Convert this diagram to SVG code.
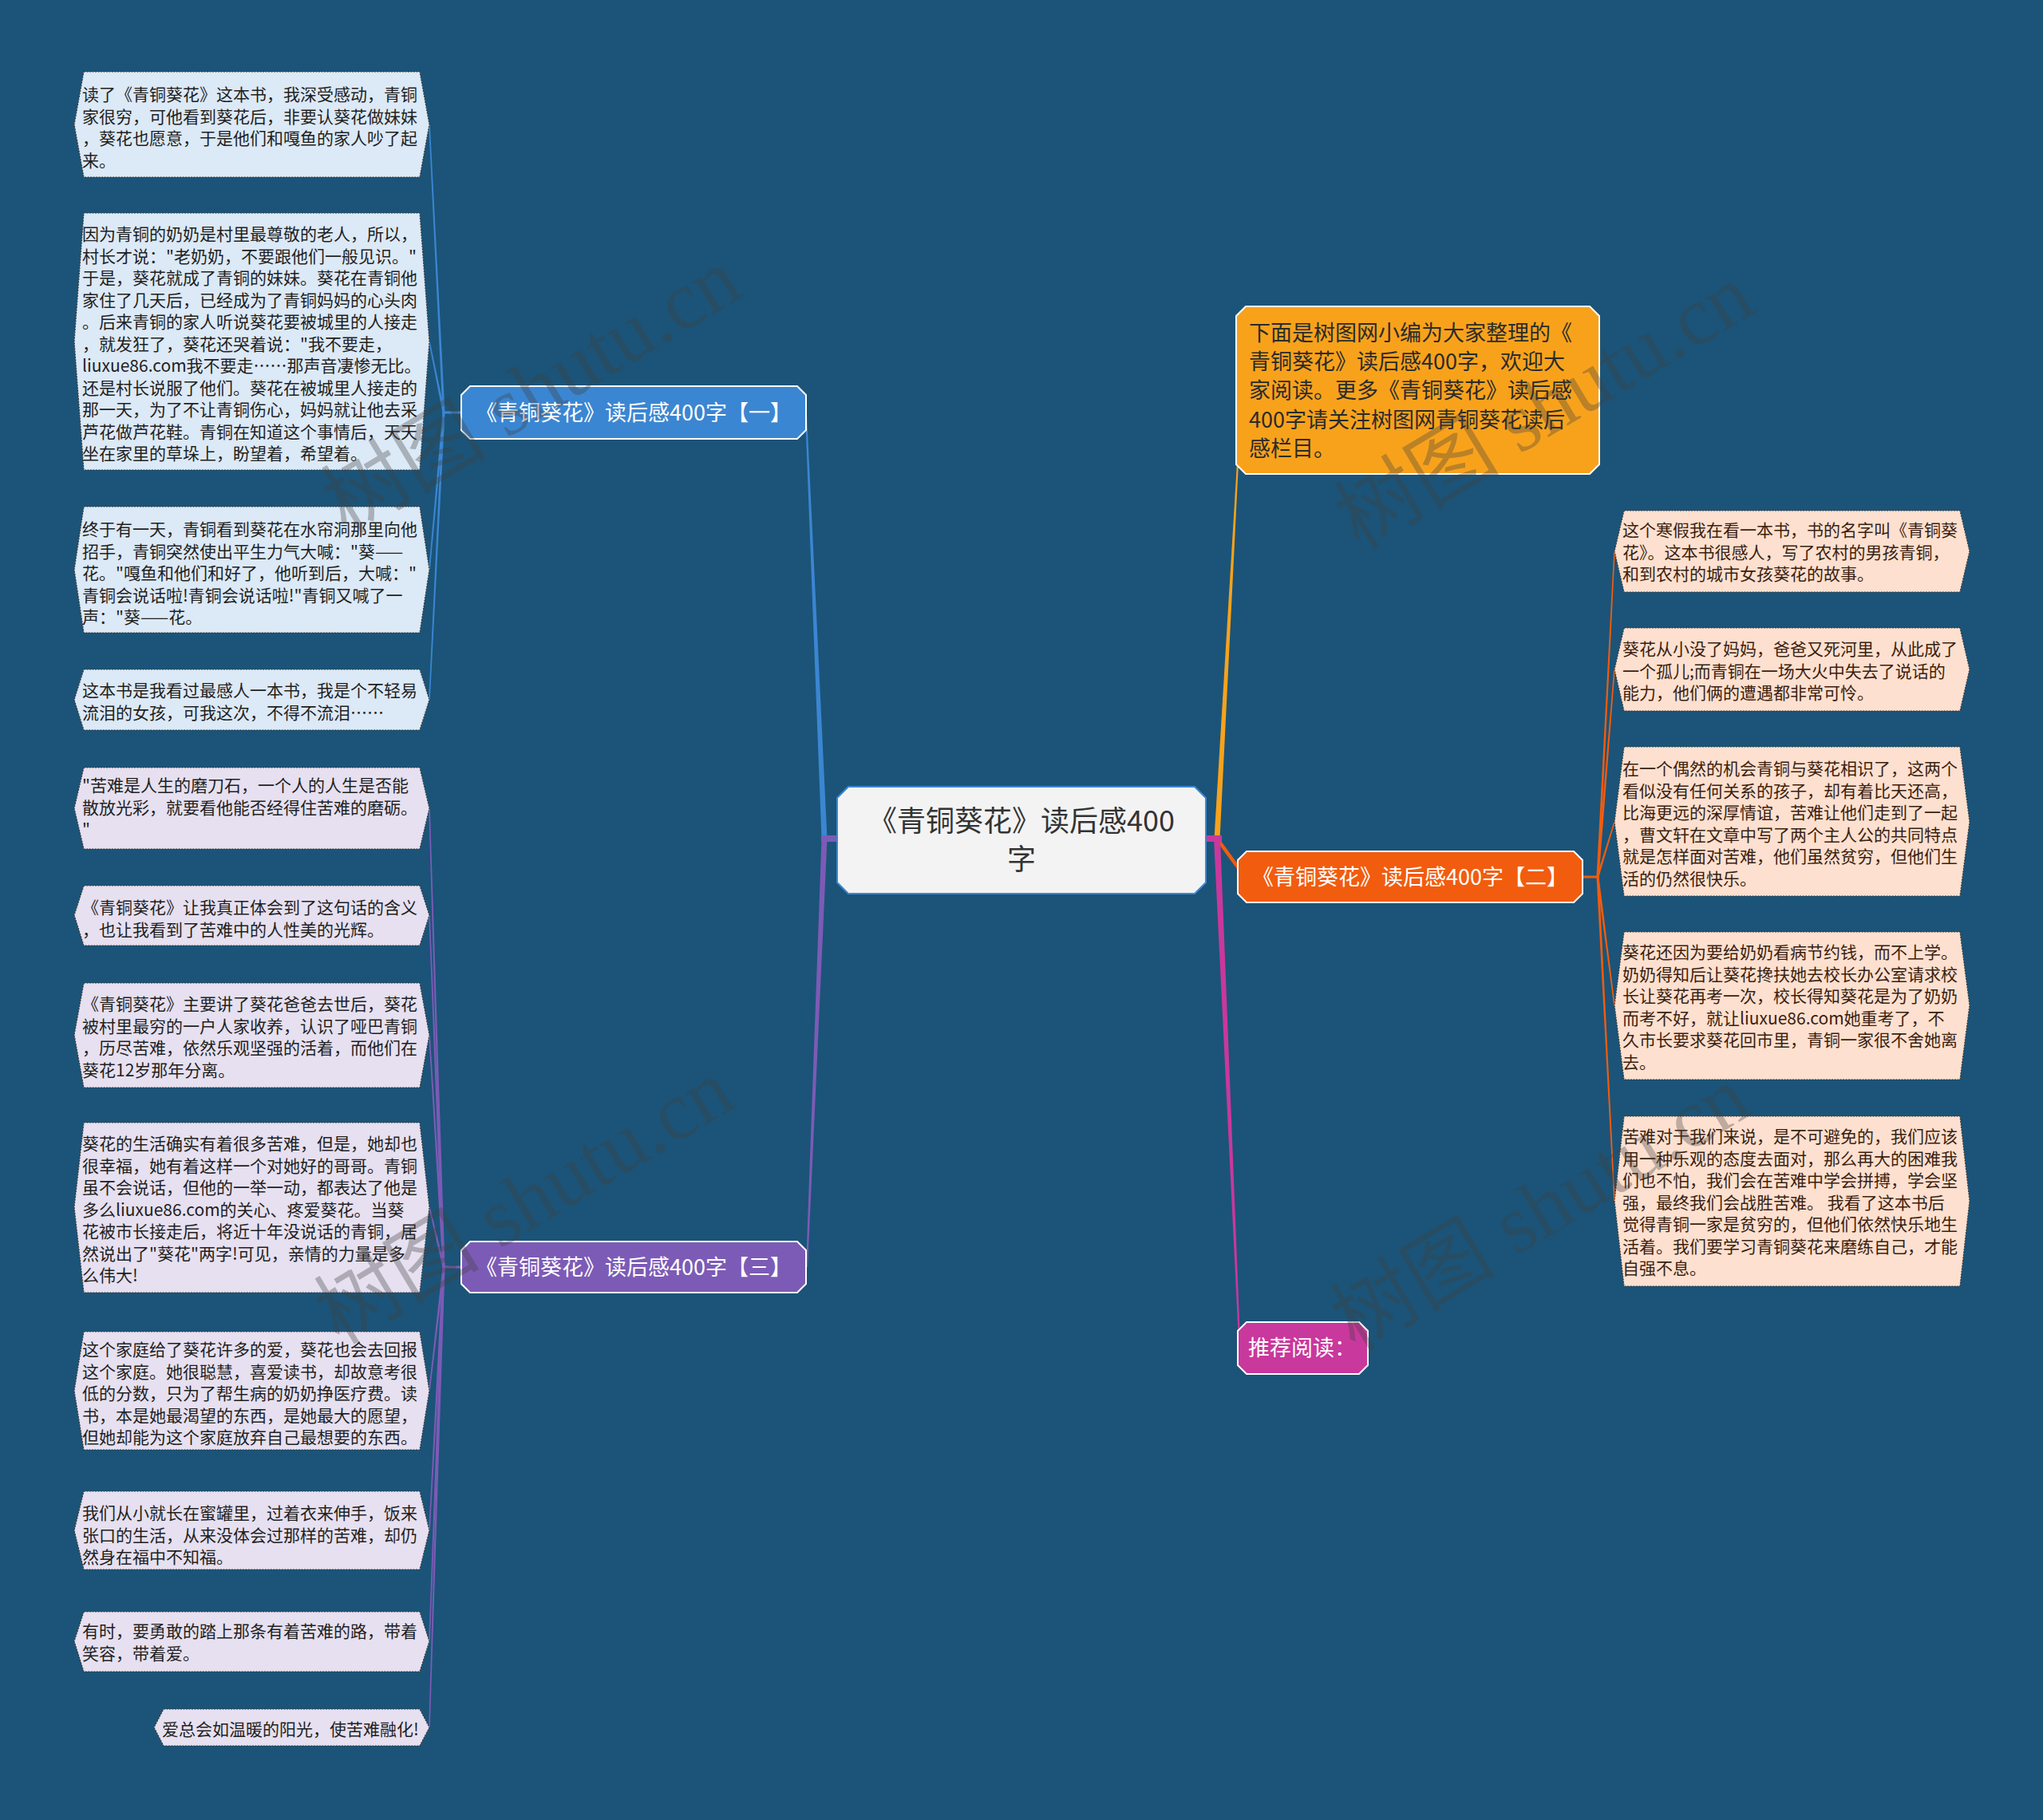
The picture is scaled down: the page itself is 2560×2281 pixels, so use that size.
<svg xmlns="http://www.w3.org/2000/svg" width="2560" height="2281" viewBox="0 0 2560 2281">
<style>
.lf{stroke:#3a3a3a;stroke-width:1.2;stroke-dasharray:2 1.5}
.lb{fill:#dce9f6}
.lp{fill:#e6e0f0}
.lo{fill:#fde0cf}
.t{font-family:"Noto Sans CJK SC","Noto Sans",sans-serif}
.lt{font-size:21px;fill:#1f1f1f}
.lto{font-size:21px;fill:#3b1e10}
.bt{font-size:27px;fill:#ffffff}
.br{stroke:#ffffff;stroke-width:2}
.wm{font-family:"Liberation Serif","Noto Sans CJK SC",serif;font-size:104px;fill:#404040;opacity:0.33}
</style>
<rect x="0" y="0" width="2560" height="2281" fill="#1b5478"/>

<g id="connectors">
  <!-- central to branches -->
  <polygon points="1029.5,1051 1009,520 1011,520 1036.5,1051" fill="#3b86d2"/>
  <polygon points="1029.5,1051 1010,1588 1012,1588 1036.5,1051" fill="#7c5bb6"/>
  <rect x="1029" y="1047" width="22" height="8" fill="#7c5bb6"/>
  <polygon points="1521.5,1051 1550,580 1552,580 1528.5,1051" fill="#f8a21c"/>
  <line x1="1525" y1="1051" x2="1560" y2="1099" stroke="#f25c0e" stroke-width="4.5"/>
  <polygon points="1521,1051 1552,1680 1554,1680 1529,1051" fill="#c9389c"/>
  <rect x="1509" y="1047" width="22" height="8" fill="#c9389c"/>
  <!-- branch 1 to leaves -->
  <g fill="#3b86d2">
    <rect x="554" y="515.5" width="26" height="3"/>
    <polygon points="554.5,517 537.2,156 538.8,156 557.5,517"/>
    <polygon points="554.5,517 537.2,428 538.8,428 557.5,517"/>
    <polygon points="554.5,517 537.2,714 538.8,714 557.5,517"/>
    <polygon points="554.5,517 537.2,877 538.8,877 557.5,517"/>
  </g>
  <!-- branch 3 to leaves -->
  <g fill="#7c5bb6">
    <rect x="554" y="1586.5" width="26" height="3"/>
    <polygon points="554.5,1588 537.2,1013 538.8,1013 557.5,1588"/>
    <polygon points="554.5,1588 537.2,1147 538.8,1147 557.5,1588"/>
    <polygon points="554.5,1588 537.2,1297 538.8,1297 557.5,1588"/>
    <polygon points="554.5,1588 537.2,1513 538.8,1513 557.5,1588"/>
    <polygon points="554.5,1588 537.2,1743 538.8,1743 557.5,1588"/>
    <polygon points="554.5,1588 537.2,1918 538.8,1918 557.5,1588"/>
    <polygon points="554.5,1588 537.2,2057 538.8,2057 557.5,1588"/>
    <polygon points="554.5,1588 537.2,2165 538.8,2165 557.5,1588"/>
  </g>
  <!-- branch 2 to leaves -->
  <g fill="#f25c0e">
    <rect x="1980" y="1097.5" width="24" height="3"/>
    <polygon points="2000.5,1099 2022.2,691 2023.8,691 2003.5,1099"/>
    <polygon points="2000.5,1099 2022.2,839 2023.8,839 2003.5,1099"/>
    <polygon points="2000.5,1099 2022.2,1030 2023.8,1030 2003.5,1099"/>
    <polygon points="2000.5,1099 2022.2,1260 2023.8,1260 2003.5,1099"/>
    <polygon points="2000.5,1099 2022.2,1505 2023.8,1505 2003.5,1099"/>
  </g>
</g>

<g id="central">
  <polygon points="1063,986 1497,986 1511,1000 1511,1106 1497,1120 1063,1120 1049,1106 1049,1000" fill="#f3f3f3" stroke="#3b86d2" stroke-width="2"/>
  <text class="t" x="1280" y="1042" font-size="36" fill="#333333" text-anchor="middle">《青铜葵花》读后感400</text>
  <text class="t" x="1280" y="1090" font-size="36" fill="#333333" text-anchor="middle">字</text>
</g>

<g id="branch1">
  <polygon class="br" points="589,484 999,484 1010,495 1010,539 999,550 589,550 578,539 578,495" fill="#3b86d2"/>
  <text class="t bt" x="794" y="527" text-anchor="middle">《青铜葵花》读后感400字【一】</text>
</g>
<g id="branch3">
  <polygon class="br" points="589,1556 999,1556 1010,1567 1010,1609 999,1620 589,1620 578,1609 578,1567" fill="#7c5bb6"/>
  <text class="t bt" x="794" y="1598" text-anchor="middle">《青铜葵花》读后感400字【三】</text>
</g>
<g id="branch2">
  <polygon class="br" points="1562,1067 1972,1067 1983,1078 1983,1120 1972,1131 1562,1131 1551,1120 1551,1078" fill="#f25c0e"/>
  <text class="t bt" x="1767" y="1109" text-anchor="middle">《青铜葵花》读后感400字【二】</text>
</g>
<g id="recommend">
  <polygon class="br" points="1562,1657 1703,1657 1714,1668 1714,1711 1703,1722 1562,1722 1551,1711 1551,1668" fill="#c9389c"/>
  <text class="t bt" x="1564" y="1699">推荐阅读：</text>
</g>
<g id="intro">
  <polygon class="br" points="1561,384 1992,384 2004,396 2004,582 1992,594 1561,594 1549,582 1549,396" fill="#f8a21c"/>
  <text class="t" font-size="27" fill="#2b2b2b">
    <tspan x="1565" y="427">下面是树图网小编为大家整理的《</tspan>
    <tspan x="1565" y="463">青铜葵花》读后感400字，欢迎大</tspan>
    <tspan x="1565" y="499">家阅读。更多《青铜葵花》读后感</tspan>
    <tspan x="1565" y="536">400字请关注树图网青铜葵花读后</tspan>
    <tspan x="1565" y="572">感栏目。</tspan>
  </text>
</g>

<!-- left leaves (branch 1) -->
<g id="leaf-l1">
  <polygon class="lf lb" points="105,90 526,90 538,156 526,222 105,222 93,156"/>
  <text class="t lt">
    <tspan x="103" y="126">读了《青铜葵花》这本书，我深受感动，青铜</tspan>
    <tspan x="103" y="153.5">家很穷，可他看到葵花后，非要认葵花做妹妹</tspan>
    <tspan x="103" y="181">，葵花也愿意，于是他们和嘎鱼的家人吵了起</tspan>
    <tspan x="103" y="208.5">来。</tspan>
  </text>
</g>
<g id="leaf-l2">
  <polygon class="lf lb" points="105,267 526,267 538,428 526,589 105,589 93,428"/>
  <text class="t lt">
    <tspan x="103" y="301">因为青铜的奶奶是村里最尊敬的老人，所以，</tspan>
    <tspan x="103" y="328.5">村长才说："老奶奶，不要跟他们一般见识。"</tspan>
    <tspan x="103" y="356">于是，葵花就成了青铜的妹妹。葵花在青铜他</tspan>
    <tspan x="103" y="383.5">家住了几天后，已经成为了青铜妈妈的心头肉</tspan>
    <tspan x="103" y="411">。后来青铜的家人听说葵花要被城里的人接走</tspan>
    <tspan x="103" y="438.5">，就发狂了，葵花还哭着说："我不要走，</tspan>
    <tspan x="103" y="466">liuxue86.com我不要走……那声音凄惨无比。</tspan>
    <tspan x="103" y="493.5">还是村长说服了他们。葵花在被城里人接走的</tspan>
    <tspan x="103" y="521">那一天，为了不让青铜伤心，妈妈就让他去采</tspan>
    <tspan x="103" y="548.5">芦花做芦花鞋。青铜在知道这个事情后，天天</tspan>
    <tspan x="103" y="576">坐在家里的草垛上，盼望着，希望着。</tspan>
  </text>
</g>
<g id="leaf-l3">
  <polygon class="lf lb" points="105,635 526,635 538,714 526,793 105,793 93,714"/>
  <text class="t lt">
    <tspan x="103" y="671">终于有一天，青铜看到葵花在水帘洞那里向他</tspan>
    <tspan x="103" y="698.5">招手，青铜突然使出平生力气大喊："葵——</tspan>
    <tspan x="103" y="726">花。"嘎鱼和他们和好了，他听到后，大喊："</tspan>
    <tspan x="103" y="753.5">青铜会说话啦!青铜会说话啦!"青铜又喊了一</tspan>
    <tspan x="103" y="781">声："葵——花。</tspan>
  </text>
</g>
<g id="leaf-l4">
  <polygon class="lf lb" points="105,839 526,839 538,877 526,915 105,915 93,877"/>
  <text class="t lt">
    <tspan x="103" y="873">这本书是我看过最感人一本书，我是个不轻易</tspan>
    <tspan x="103" y="900.5">流泪的女孩，可我这次，不得不流泪……</tspan>
  </text>
</g>

<!-- left leaves (branch 3) -->
<g id="leaf-l5">
  <polygon class="lf lp" points="105,962 526,962 538,1013 526,1064 105,1064 93,1013"/>
  <text class="t lt">
    <tspan x="103" y="992">"苦难是人生的磨刀石，一个人的人生是否能</tspan>
    <tspan x="103" y="1019.5">散放光彩，就要看他能否经得住苦难的磨砺。</tspan>
    <tspan x="103" y="1047">"</tspan>
  </text>
</g>
<g id="leaf-l6">
  <polygon class="lf lp" points="105,1110 526,1110 538,1147 526,1185 105,1185 93,1147"/>
  <text class="t lt">
    <tspan x="103" y="1145">《青铜葵花》让我真正体会到了这句话的含义</tspan>
    <tspan x="103" y="1172.5">，也让我看到了苦难中的人性美的光辉。</tspan>
  </text>
</g>
<g id="leaf-l7">
  <polygon class="lf lp" points="105,1232 526,1232 538,1297 526,1363 105,1363 93,1297"/>
  <text class="t lt">
    <tspan x="103" y="1266">《青铜葵花》主要讲了葵花爸爸去世后，葵花</tspan>
    <tspan x="103" y="1293.5">被村里最穷的一户人家收养，认识了哑巴青铜</tspan>
    <tspan x="103" y="1321">，历尽苦难，依然乐观坚强的活着，而他们在</tspan>
    <tspan x="103" y="1348.5">葵花12岁那年分离。</tspan>
  </text>
</g>
<g id="leaf-l8">
  <polygon class="lf lp" points="105,1407 526,1407 538,1513 526,1620 105,1620 93,1513"/>
  <text class="t lt">
    <tspan x="103" y="1441">葵花的生活确实有着很多苦难，但是，她却也</tspan>
    <tspan x="103" y="1468.5">很幸福，她有着这样一个对她好的哥哥。青铜</tspan>
    <tspan x="103" y="1496">虽不会说话，但他的一举一动，都表达了他是</tspan>
    <tspan x="103" y="1523.5">多么liuxue86.com的关心、疼爱葵花。当葵</tspan>
    <tspan x="103" y="1551">花被市长接走后，将近十年没说话的青铜，居</tspan>
    <tspan x="103" y="1578.5">然说出了"葵花"两字!可见，亲情的力量是多</tspan>
    <tspan x="103" y="1606">么伟大!</tspan>
  </text>
</g>
<g id="leaf-l9">
  <polygon class="lf lp" points="105,1669 526,1669 538,1743 526,1817 105,1817 93,1743"/>
  <text class="t lt">
    <tspan x="103" y="1699">这个家庭给了葵花许多的爱，葵花也会去回报</tspan>
    <tspan x="103" y="1726.5">这个家庭。她很聪慧，喜爱读书，却故意考很</tspan>
    <tspan x="103" y="1754">低的分数，只为了帮生病的奶奶挣医疗费。读</tspan>
    <tspan x="103" y="1781.5">书，本是她最渴望的东西，是她最大的愿望，</tspan>
    <tspan x="103" y="1809">但她却能为这个家庭放弃自己最想要的东西。</tspan>
  </text>
</g>
<g id="leaf-l10">
  <polygon class="lf lp" points="105,1869 526,1869 538,1918 526,1967 105,1967 93,1918"/>
  <text class="t lt">
    <tspan x="103" y="1904">我们从小就长在蜜罐里，过着衣来伸手，饭来</tspan>
    <tspan x="103" y="1931.5">张口的生活，从来没体会过那样的苦难，却仍</tspan>
    <tspan x="103" y="1959">然身在福中不知福。</tspan>
  </text>
</g>
<g id="leaf-l11">
  <polygon class="lf lp" points="105,2020 526,2020 538,2057 526,2095 105,2095 93,2057"/>
  <text class="t lt">
    <tspan x="103" y="2052">有时，要勇敢的踏上那条有着苦难的路，带着</tspan>
    <tspan x="103" y="2079.5">笑容，带着爱。</tspan>
  </text>
</g>
<g id="leaf-l12">
  <polygon class="lf lp" points="205,2142 526,2142 538,2165 526,2188 205,2188 193,2165"/>
  <text class="t lt" x="203" y="2175">爱总会如温暖的阳光，使苦难融化!</text>
</g>

<!-- right leaves (branch 2) -->
<g id="leaf-r1">
  <polygon class="lf lo" points="2035,640 2456,640 2468,691 2456,742 2035,742 2023,691"/>
  <text class="t lto">
    <tspan x="2033" y="672">这个寒假我在看一本书，书的名字叫《青铜葵</tspan>
    <tspan x="2033" y="699.5">花》。这本书很感人，写了农村的男孩青铜，</tspan>
    <tspan x="2033" y="727">和到农村的城市女孩葵花的故事。</tspan>
  </text>
</g>
<g id="leaf-r2">
  <polygon class="lf lo" points="2035,787 2456,787 2468,839 2456,891 2035,891 2023,839"/>
  <text class="t lto">
    <tspan x="2033" y="821">葵花从小没了妈妈，爸爸又死河里，从此成了</tspan>
    <tspan x="2033" y="848.5">一个孤儿;而青铜在一场大火中失去了说话的</tspan>
    <tspan x="2033" y="876">能力，他们俩的遭遇都非常可怜。</tspan>
  </text>
</g>
<g id="leaf-r3">
  <polygon class="lf lo" points="2035,936 2456,936 2468,1030 2456,1123 2035,1123 2023,1030"/>
  <text class="t lto">
    <tspan x="2033" y="971">在一个偶然的机会青铜与葵花相识了，这两个</tspan>
    <tspan x="2033" y="998.5">看似没有任何关系的孩子，却有着比天还高，</tspan>
    <tspan x="2033" y="1026">比海更远的深厚情谊，苦难让他们走到了一起</tspan>
    <tspan x="2033" y="1053.5">，曹文轩在文章中写了两个主人公的共同特点</tspan>
    <tspan x="2033" y="1081">就是怎样面对苦难，他们虽然贫穷，但他们生</tspan>
    <tspan x="2033" y="1108.5">活的仍然很快乐。</tspan>
  </text>
</g>
<g id="leaf-r4">
  <polygon class="lf lo" points="2035,1168 2456,1168 2468,1260 2456,1353 2035,1353 2023,1260"/>
  <text class="t lto">
    <tspan x="2033" y="1201">葵花还因为要给奶奶看病节约钱，而不上学。</tspan>
    <tspan x="2033" y="1228.5">奶奶得知后让葵花搀扶她去校长办公室请求校</tspan>
    <tspan x="2033" y="1256">长让葵花再考一次，校长得知葵花是为了奶奶</tspan>
    <tspan x="2033" y="1283.5">而考不好，就让liuxue86.com她重考了，不</tspan>
    <tspan x="2033" y="1311">久市长要求葵花回市里，青铜一家很不舍她离</tspan>
    <tspan x="2033" y="1338.5">去。</tspan>
  </text>
</g>
<g id="leaf-r5">
  <polygon class="lf lo" points="2035,1399 2456,1399 2468,1505 2456,1612 2035,1612 2023,1505"/>
  <text class="t lto">
    <tspan x="2033" y="1432">苦难对于我们来说，是不可避免的，我们应该</tspan>
    <tspan x="2033" y="1459.5">用一种乐观的态度去面对，那么再大的困难我</tspan>
    <tspan x="2033" y="1487">们也不怕，我们会在苦难中学会拼搏，学会坚</tspan>
    <tspan x="2033" y="1514.5">强，最终我们会战胜苦难。 我看了这本书后</tspan>
    <tspan x="2033" y="1542">觉得青铜一家是贫穷的，但他们依然快乐地生</tspan>
    <tspan x="2033" y="1569.5">活着。我们要学习青铜葵花来磨练自己，才能</tspan>
    <tspan x="2033" y="1597">自强不息。</tspan>
  </text>
</g>

<g id="watermark">
  <text class="wm" x="666" y="525" text-anchor="middle" transform="rotate(-31 666 490)">树图 shutu.cn</text>
  <text class="wm" x="1935" y="545" text-anchor="middle" transform="rotate(-31 1935 510)">树图 shutu.cn</text>
  <text class="wm" x="657" y="1541" text-anchor="middle" transform="rotate(-31 657 1506)">树图 shutu.cn</text>
  <text class="wm" x="1930" y="1550" text-anchor="middle" transform="rotate(-31 1930 1515)">树图 shutu.cn</text>
</g>
</svg>
